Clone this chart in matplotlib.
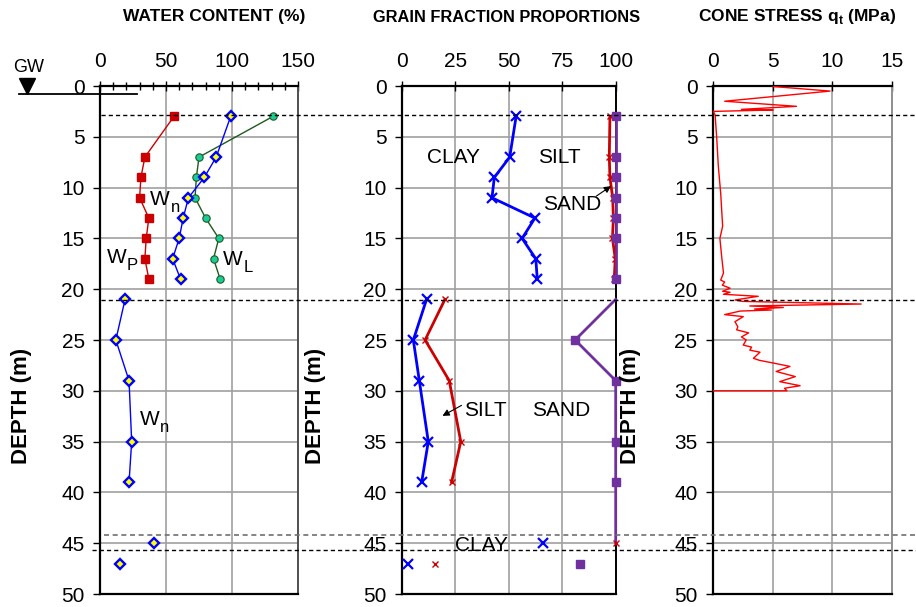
import matplotlib
matplotlib.use('Agg')
import matplotlib.pyplot as plt
from matplotlib.lines import Line2D
import matplotlib.transforms as mtrans

plt.rcParams['font.family'] = ['Liberation Sans', 'DejaVu Sans']
plt.rcParams['mathtext.fontset'] = 'custom'
plt.rcParams['mathtext.rm'] = 'Liberation Sans'
plt.rcParams['mathtext.bf'] = 'Liberation Sans:bold'

# ---------------- data ----------------
# Water content panel
wc_depth = [3, 7, 9, 11, 13, 15, 17, 19]
w_plastic = [56, 34, 31, 30, 37, 35, 34, 37]
w_natural_upper = [99, 88, 79, 67, 63, 60, 55, 61]
w_liquid = [131, 75, 73, 72, 80, 90, 86, 91]
wn_lower_depth = [21, 25, 29, 35, 39]
w_natural_lower = [19, 12, 22, 24, 22]
wn_single_depth = [45, 47]
w_natural_single = [41, 15]

# Grain fraction proportions (cumulative %)
gf_depth_upper = [3, 7, 9, 11, 13, 15, 17, 19]
clay_upper = [53.4, 50.4, 43.2, 42.1, 62.2, 56.2, 62.6, 63.3]
clay_silt_upper = [97.3, 97.0, 97.3, 98.6, 98.9, 98.5, 99.8, 99.3]
total_upper_depth = [3, 7, 9, 11, 13, 15, 19]
total_upper = [100, 100, 100, 100, 100, 100, 100]
gf_depth_lower = [21, 25, 29, 35, 39]
clay_lower = [11.5, 5.3, 8.1, 12.3, 9.2]
clay_silt_lower = [20.1, 10.8, 22.1, 27.5, 23.2]
total_lower_depth = [21, 25, 29, 35, 39, 45]
total_lower = [100, 81, 100, 100, 100, 100]
gf_single_depth = [45, 47]
clay_single = [66, 3]
clay_silt_single = [100, 15.4]
total_single_depth = [47]
total_single = [83.5]

# Cone stress
cone_depth = [0.05, 0.5, 1.5, 2.0, 2.3, 2.36, 2.5, 2.85, 5.0, 7.9, 10.6, 13.8,
              15.0, 16.8, 18.4, 19.1, 19.3, 19.6, 19.9, 20.2, 20.3, 20.5, 20.7,
              21.06, 21.2, 21.46, 21.65, 21.8, 21.95, 22.05, 22.15, 22.5, 22.7,
              23.2, 23.7, 24.0, 24.3, 24.7, 25.0, 25.5, 25.7, 26.0, 26.2, 26.8,
              27.0, 27.3, 27.6, 28.1, 28.6, 29.1, 29.5, 29.75, 30.0, 30.0]
cone_q = [5.05, 9.8, 1.0, 7.0, 2.4, 5.05, 0.05, 0.2, 0.33, 0.47, 0.67, 0.83,
          0.6, 0.75, 0.9, 0.67, 1.0, 0.8, 1.45, 0.83, 1.45, 0.9, 3.8,
          1.86, 2.5, 12.4, 3.1, 5.9, 3.5, 4.9, 2.3, 1.0, 2.55,
          1.86, 2.1, 2.0, 3.0, 2.4, 2.8, 2.55, 3.25, 3.1, 3.95, 3.4,
          3.9, 5.2, 6.45, 5.3, 6.9, 5.6, 7.3, 6.0, 6.2, 0.0]

boundary_depths = [2.9, 21.1, 45.7]
boundary_gray_depth = 44.2
gw_depth = 0.8

depth_ticks = list(range(0, 51, 5))

# ---------------- figure ----------------
W, H = 916, 607
fig = plt.figure(figsize=(W / 100, H / 100), dpi=100)


def px_axes(x0, x1, y0=86, y1=594):
    return fig.add_axes([x0 / W, (H - y1) / H, (x1 - x0) / W, (y1 - y0) / H])


ax1 = px_axes(100, 298)
ax2 = px_axes(402, 615.7)
ax3 = px_axes(712.7, 892.3)

grid_c = '#a0a0a0'
for ax, xl, xt, rcol in [(ax1, (0, 150), [0, 50, 100, 150], '#505050'),
                         (ax2, (0, 100), [0, 25, 50, 75, 100], 'black'),
                         (ax3, (0, 15), [0, 5, 10, 15], '#909090')]:
    ax.set_xlim(*xl)
    ax.set_ylim(50, 0)
    ax.xaxis.tick_top()
    ax.set_xticks(xt)
    ax.set_yticks(depth_ticks)
    ax.set_yticklabels([str(d) for d in depth_ticks])
    ax.grid(True, color=grid_c, lw=1.2, zorder=0)
    ax.set_axisbelow(True)
    ax.tick_params(axis='x', which='both', direction='inout', length=7, width=1,
                   labelsize=15, pad=7, top=True, bottom=False)
    ax.tick_params(axis='y', which='both', direction='out', length=5, width=1,
                   labelsize=15, pad=6)
    for s in ['left', 'top', 'bottom']:
        ax.spines[s].set_linewidth(1.6)
        ax.spines[s].set_color('black')
    ax.spines['right'].set_linewidth(1.4)
    ax.spines['right'].set_color(rcol)
    ax.set_ylabel('DEPTH (m)', fontsize=16, fontweight='bold')

ax1.set_xticks(range(0, 151, 10), minor=True)
ax1.tick_params(axis='x', which='minor', length=6)
ax1.yaxis.set_label_coords(-68 / 198, 0.37)
ax2.yaxis.set_label_coords(-76 / 213.7, 0.37)
ax3.yaxis.set_label_coords(-72 / 179.6, 0.37)

# ---- panel 1: water content ----
dia_kw = dict(marker='D', ms=5.2, mfc='#ffff00', mec='#0000ff', mew=1.7, zorder=4)
ax1.plot(w_plastic, wc_depth, color='#cc0000', lw=1, marker='s', ms=5.8,
         mfc='#cc0000', mec='#cc0000', zorder=3)
ax1.plot(w_liquid, wc_depth, color='#1f5a1f', lw=1, marker='o', ms=5.3,
         mfc='#19cc9a', mec='#1f5a1f', mew=0.8, zorder=3)
ax1.plot(w_natural_upper, wc_depth, color='#0000ff', lw=1, **dia_kw)
ax1.plot(w_natural_lower, wn_lower_depth, color='#0000ff', lw=1, **dia_kw)
ax1.plot(w_natural_single, wn_single_depth, ls='none', **dia_kw)


def wlabel(ax, xw, yw, xs, ys, sub):
    ax.text(xw, yw, 'W', fontsize=15, ha='center', va='center', zorder=6)
    ax.text(xs, ys, sub, fontsize=12, ha='center', va='center', zorder=6)


wlabel(ax1, 45.5, 11.2, 57.6, 12.0, 'n')
wlabel(ax1, 12.5, 16.9, 24.6, 17.7, 'P')
wlabel(ax1, 100.8, 17.1, 112.5, 17.9, 'L')
wlabel(ax1, 37.9, 32.8, 49.2, 33.6, 'n')

# ---- panel 2: grain fractions ----
blue_kw = dict(color='#0000ff', lw=2, marker='x', ms=7, mew=1.6, zorder=3)
red_kw = dict(color='#cc0000', lw=2, marker='x', ms=5, mew=1.0, zorder=3)
pur_kw = dict(color='#7030a0', lw=2, marker='s', ms=6, zorder=4)
ax2.plot(clay_upper, gf_depth_upper, **blue_kw)
ax2.plot(clay_lower, gf_depth_lower, **blue_kw)
ax2.plot(clay_silt_upper, gf_depth_upper, **red_kw)
ax2.plot(clay_silt_lower, gf_depth_lower, **red_kw)
ax2.plot(total_upper, total_upper_depth, clip_on=False, **pur_kw)
ax2.plot(total_lower, total_lower_depth, clip_on=False, markevery=[1, 2, 3, 4], **pur_kw)
ax2.plot(clay_single, gf_single_depth, ls='none', marker='x', ms=7, mew=1.6,
         color='#0000ff', zorder=3)
ax2.plot(clay_silt_single, gf_single_depth, ls='none', marker='x', ms=5, mew=1.0,
         color='#cc0000', zorder=5, clip_on=False)
ax2.plot(total_single, total_single_depth, ls='none', marker='s', ms=6,
         color='#7030a0', zorder=4)

tkw = dict(fontsize=15, ha='center', va='center', zorder=6)
ax2.text(24.3, 7.0, 'CLAY', **tkw)
ax2.text(73.5, 7.0, 'SILT', **tkw)
ax2.text(79.6, 11.7, 'SAND', **tkw)
ax2.text(39.1, 31.9, 'SILT', **tkw)
ax2.text(74.4, 31.9, 'SAND', **tkw)
ax2.text(37.3, 45.2, 'CLAY', **tkw)
akw = dict(arrowstyle='-|>', color='black', lw=0.8, mutation_scale=10)
ax2.annotate('', xy=(98.9, 9.7), xytext=(89.8, 11.0), arrowprops=akw, zorder=6)
ax2.annotate('', xy=(17.8, 32.6), xytext=(29.0, 31.3), arrowprops=akw, zorder=6)

# ---- panel 3: cone stress ----
ax3.plot(cone_q, cone_depth, color='#ff0000', lw=1, zorder=3)

# ---- boundaries across figure ----
btr = mtrans.blended_transform_factory(fig.transFigure, ax1.transData)
dash = (0, (3, 2.2))
for d in boundary_depths:
    x0 = 92 / W if d > 40 else 101 / W
    fig.add_artist(Line2D([x0, 1.0], [d, d], transform=btr, color='black',
                          lw=1, ls=dash, zorder=10))
fig.add_artist(Line2D([104 / W, 1.0], [boundary_gray_depth] * 2, transform=btr,
                      color='#707070', lw=1.2, ls=dash, zorder=10))

# ground water symbol
fig.add_artist(Line2D([19 / W, 137 / W], [gw_depth, gw_depth], transform=btr,
                      color='black', lw=1.3, zorder=10))
fig.add_artist(Line2D([26.7 / W], [(H - 86) / H], marker='v', ms=11,
                      color='black', transform=fig.transFigure, zorder=10))
fig.text(29 / W, 1 - 68 / H, 'GW', fontsize=13, ha='center', va='center')

# ---- titles ----
fig.text(214 / W, 1 - 17 / H, 'WATER CONTENT (%)', fontsize=12.5,
         fontweight='bold', ha='center', va='center')
fig.text(507 / W, 1 - 17 / H, 'GRAIN FRACTION PROPORTIONS', fontsize=11.8,
         fontweight='bold', ha='center', va='center')
fig.text(797 / W, 1 - 17 / H, r'CONE STRESS q$_\mathbf{t}$ (MPa)', fontsize=12.5,
         fontweight='bold', ha='center', va='center')

fig.savefig('out.png', dpi=100)
